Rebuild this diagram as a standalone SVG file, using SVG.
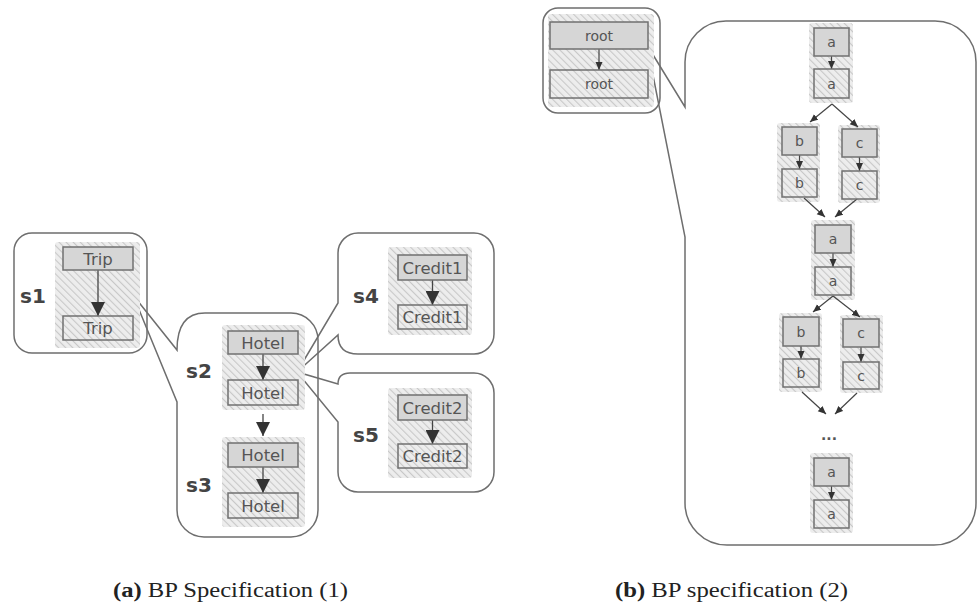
<svg xmlns="http://www.w3.org/2000/svg" width="978" height="606" viewBox="0 0 978 606">
<defs>
<pattern id="hatch" patternUnits="userSpaceOnUse" width="5" height="5" patternTransform="rotate(-45)">
<rect width="5" height="5" fill="#ededed"/>
<line x1="0" y1="0" x2="0" y2="5" stroke="#c8c8c8" stroke-width="2.2"/>
</pattern>
<marker id="big" markerUnits="userSpaceOnUse" markerWidth="14" markerHeight="14" refX="14" refY="7" orient="auto">
<path d="M0,0 L14,7 L0,14 Z" fill="#333"/>
</marker>
<marker id="small" markerUnits="userSpaceOnUse" markerWidth="8" markerHeight="8" refX="8" refY="4" orient="auto">
<path d="M0,0.5 L8,4 L0,7.5 Z" fill="#333"/>
</marker>
</defs>
<style>
.callout{fill:none;stroke:#6e6e6e;stroke-width:1.5}
.area{fill:url(#hatch)}
.top{fill:#d6d6d6;stroke:#707070;stroke-width:1.5}
.bot{fill:url(#hatch);stroke:#707070;stroke-width:1.5}
.lbl{font-family:"DejaVu Sans",sans-serif;font-size:16.5px;fill:#555;text-anchor:middle}
.lbs{font-family:"DejaVu Sans",sans-serif;font-size:14px;fill:#555;text-anchor:middle}
.sid{font-family:"DejaVu Sans",sans-serif;font-weight:bold;font-size:20px;fill:#444}
.e1{stroke:#444;stroke-width:1.3;fill:none;marker-end:url(#big)}
.e2{stroke:#444;stroke-width:1.2;fill:none;marker-end:url(#small)}
.cap{font-family:"Liberation Serif",serif;font-size:20px;fill:#222}
</style>

<!-- callouts -->
<g id="callout-s1"><rect class="callout" x="14" y="233" width="133" height="120" rx="18"/></g>
<g id="callout-s2"><path class="callout" d="M205,313 H291 A27,27 0 0 1 318,340 V510 A27,27 0 0 1 291,537 H204 A27,27 0 0 1 177,510 V402 L133,295 L177,350 C177,326 186,313 205,313 Z"/></g>
<g id="callout-s4"><path class="callout" d="M358,233 H474 A20,20 0 0 1 494,253 V334 A20,20 0 0 1 474,354 H358 Q338,354 338,335 L297,372 L338,303 V253 A20,20 0 0 1 358,233 Z"/></g>
<g id="callout-s5"><path class="callout" d="M350,373 H474 A20,20 0 0 1 494,393 V472 A20,20 0 0 1 474,492 H358 A20,20 0 0 1 338,472 V422 L297,372 L338,384 Q338,373 350,373 Z"/></g>
<g id="callout-root"><rect class="callout" x="543" y="8" width="117" height="105" rx="15"/></g>
<g id="callout-big"><path class="callout" d="M726,21 H935 A41,41 0 0 1 976,62 V503 A42,42 0 0 1 934,545 H727 A42,42 0 0 1 685,503 V237 L647,45 L685,107 V62 A41,41 0 0 1 726,21 Z"/></g>

<!-- hatched state areas -->
<g id="areas">
<rect class="area" x="55" y="242" width="85" height="106" rx="3"/>
<rect class="area" x="222" y="325" width="83" height="85" rx="3"/>
<rect class="area" x="222" y="437" width="83" height="90" rx="3"/>
<rect class="area" x="388" y="247" width="84" height="88" rx="3"/>
<rect class="area" x="388" y="388" width="84" height="90" rx="3"/>
<rect class="area" x="548" y="14" width="106" height="93" rx="3"/>
<rect class="area" x="809" y="23" width="44" height="80" rx="3"/>
<rect class="area" x="777" y="123" width="43" height="79" rx="3"/>
<rect class="area" x="838" y="125" width="42" height="78" rx="3"/>
<rect class="area" x="811" y="220" width="44" height="80" rx="3"/>
<rect class="area" x="779" y="313" width="43" height="79" rx="3"/>
<rect class="area" x="840" y="315" width="43" height="78" rx="3"/>
<rect class="area" x="810" y="453" width="43" height="80" rx="3"/>
</g>

<!-- state labels -->
<g id="labels">
<text class="sid" x="20" y="303">s1</text>
<text class="sid" x="186" y="378">s2</text>
<text class="sid" x="186" y="492">s3</text>
<text class="sid" x="353" y="303">s4</text>
<text class="sid" x="353" y="442">s5</text>
</g>

<!-- connectors -->
<g id="connectors">
<line class="e1" x1="98" y1="270" x2="98" y2="316"/>
<line class="e1" x1="263" y1="354" x2="263" y2="380"/>
<line class="e1" x1="263" y1="414" x2="263" y2="436"/>
<line class="e1" x1="263" y1="467" x2="263" y2="493"/>
<line class="e1" x1="432.5" y1="280" x2="432.5" y2="305"/>
<line class="e1" x1="432.5" y1="420" x2="432.5" y2="444"/>
<line class="e2" x1="599" y1="49" x2="599" y2="70"/>
<line class="e2" x1="831.5" y1="56" x2="831.5" y2="69"/>
<line class="e2" x1="832" y1="104" x2="810" y2="122"/>
<line class="e2" x1="832" y1="104" x2="858" y2="127"/>
<line class="e2" x1="799.5" y1="155" x2="799.5" y2="169"/>
<line class="e2" x1="859.5" y1="157" x2="859.5" y2="171"/>
<line class="e2" x1="804" y1="198" x2="825" y2="217"/>
<line class="e2" x1="857" y1="199" x2="835" y2="217"/>
<line class="e2" x1="833" y1="253" x2="833" y2="267"/>
<line class="e2" x1="833" y1="296" x2="813" y2="312"/>
<line class="e2" x1="833" y1="296" x2="860" y2="317"/>
<line class="e2" x1="801" y1="346" x2="801" y2="359"/>
<line class="e2" x1="861" y1="347" x2="861" y2="362"/>
<line class="e2" x1="802" y1="392" x2="826" y2="414"/>
<line class="e2" x1="857" y1="393" x2="835" y2="414"/>
<line class="e2" x1="831.5" y1="486" x2="831.5" y2="500"/>
</g>

<!-- left nodes -->
<g id="trip1"><rect class="top" x="63" y="247" width="70" height="23"/><text class="lbl" x="98" y="264.5">Trip</text></g>
<g id="trip2"><rect class="bot" x="63" y="316" width="70" height="24"/><text class="lbl" x="98" y="334">Trip</text></g>
<g id="hotel1"><rect class="top" x="228" y="331" width="70" height="23"/><text class="lbl" x="263" y="348.5">Hotel</text></g>
<g id="hotel2"><rect class="bot" x="228" y="380" width="70" height="25"/><text class="lbl" x="263" y="398.5">Hotel</text></g>
<g id="hotel3"><rect class="top" x="228" y="443" width="70" height="24"/><text class="lbl" x="263" y="461">Hotel</text></g>
<g id="hotel4"><rect class="bot" x="228" y="493" width="70" height="25"/><text class="lbl" x="263" y="511.5">Hotel</text></g>
<g id="credit1a"><rect class="top" x="398" y="255" width="69" height="25"/><text class="lbl" x="432.5" y="273.5">Credit1</text></g>
<g id="credit1b"><rect class="bot" x="398" y="305" width="69" height="24"/><text class="lbl" x="432.5" y="323">Credit1</text></g>
<g id="credit2a"><rect class="top" x="398" y="395" width="69" height="25"/><text class="lbl" x="432.5" y="413.5">Credit2</text></g>
<g id="credit2b"><rect class="bot" x="398" y="444" width="69" height="24"/><text class="lbl" x="432.5" y="462">Credit2</text></g>

<!-- right nodes -->
<g id="root1"><rect class="top" x="550" y="22" width="98" height="27"/><text class="lbs" x="599" y="40.5">root</text></g>
<g id="root2"><rect class="bot" x="550" y="70" width="98" height="28"/><text class="lbs" x="599" y="89">root</text></g>
<g id="a1"><rect class="top" x="814" y="28" width="35" height="28"/><text class="lbs" x="831.5" y="47">a</text></g>
<g id="a2"><rect class="bot" x="814" y="69" width="35" height="29"/><text class="lbs" x="831.5" y="88.5">a</text></g>
<g id="b1"><rect class="top" x="782" y="127" width="35" height="28"/><text class="lbs" x="799.5" y="146">b</text></g>
<g id="b2"><rect class="bot" x="782" y="169" width="35" height="28"/><text class="lbs" x="799.5" y="188">b</text></g>
<g id="c1"><rect class="top" x="842" y="129" width="35" height="28"/><text class="lbs" x="859.5" y="148">c</text></g>
<g id="c2"><rect class="bot" x="842" y="171" width="35" height="28"/><text class="lbs" x="859.5" y="190">c</text></g>
<g id="a3"><rect class="top" x="815" y="225" width="36" height="28"/><text class="lbs" x="833" y="244">a</text></g>
<g id="a4"><rect class="bot" x="815" y="267" width="36" height="28"/><text class="lbs" x="833" y="286">a</text></g>
<g id="b3"><rect class="top" x="783" y="317" width="36" height="29"/><text class="lbs" x="801" y="336.5">b</text></g>
<g id="b4"><rect class="bot" x="783" y="359" width="36" height="28"/><text class="lbs" x="801" y="378">b</text></g>
<g id="c3"><rect class="top" x="843" y="319" width="36" height="28"/><text class="lbs" x="861" y="338">c</text></g>
<g id="c4"><rect class="bot" x="843" y="362" width="36" height="27"/><text class="lbs" x="861" y="380.5">c</text></g>
<g id="dots"><text class="lbs" x="829" y="440" font-weight="bold">...</text></g>
<g id="a5"><rect class="top" x="814" y="458" width="35" height="28"/><text class="lbs" x="831.5" y="477">a</text></g>
<g id="a6"><rect class="bot" x="814" y="500" width="35" height="28"/><text class="lbs" x="831.5" y="519">a</text></g>

<!-- captions -->
<text class="cap" x="113" y="597" textLength="235" lengthAdjust="spacingAndGlyphs"><tspan font-weight="bold">(a)</tspan> BP Specification (1)</text>
<text class="cap" x="615" y="597" textLength="233" lengthAdjust="spacingAndGlyphs"><tspan font-weight="bold">(b)</tspan> BP specification (2)</text>
</svg>
